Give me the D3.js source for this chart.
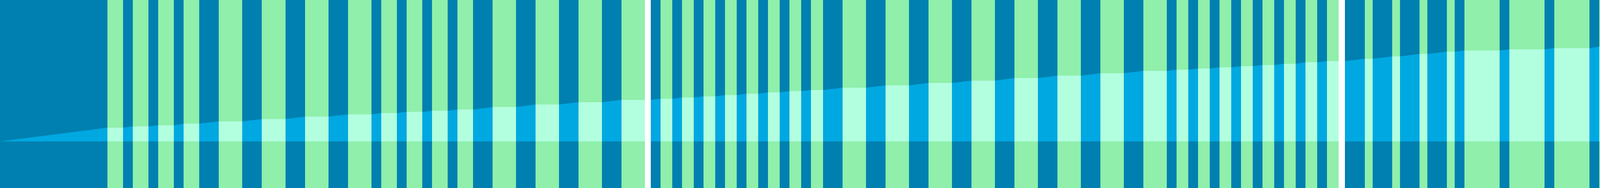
<!DOCTYPE html>
<html>
<head>
<meta charset="utf-8">
<script src="https://cdn.jsdelivr.net/npm/d3@7"></script>
<style>
  html, body { margin: 0; padding: 0; background: #ffffff; overflow: hidden; }
  svg { display: block; }
</style>
</head>
<body>
<svg id="chart"></svg>
<script>
// ---------------- DATA ----------------
// gap with no data preceding each rest phase (white break)
const breakBefore = [
  0, 0, 0, 0, 0, 0, 0, 0, 0, 0, 0, 0, 0, 0, 0, 0,
  3, 0, 0, 0, 0, 0, 0, 0,
  0, 0, 0, 0, 0, 0, 0, 0,
  0, 0, 0, 0, 0, 0, 0, 0,
  3.2, 0, 0, 0,
  0, 0, 0, 0
];
// rest phase (dark blue) duration before each active phase
const restDurations = [
  55, 5, 5, 5, 10, 10, 10, 10, 5, 5, 5, 5, 10, 10, 10, 10,
  5, 5, 5, 5, 5, 5, 5, 5,
  10, 10, 10, 10, 10, 10, 10, 10,
  5, 5, 5, 5, 5, 5, 5, 5,
  10, 10, 10, 10,
  5, 5, 5, 5
];
// active phase (green) durations
const activeDurations = [
  8, 8, 8, 8, 12, 12, 12, 12, 8, 8, 8, 8, 12, 12, 12, 12,
  6, 6, 6, 6, 6, 6, 6, 6,
  12, 12, 12, 12, 12, 12, 12, 12,
  6, 6, 6, 6, 6, 6, 6, 6,
  4, 4, 4, 4,
  18, 18, 18, 18
];
// cumulative level held during each active phase
const activeLevels = [
  35, 38.3, 41, 45.3, 51, 57, 63.3, 69, 72.3, 75.3, 78.3, 81.3, 87.7, 94.3, 100, 106,
  108.7, 112, 115, 118.3, 121.7, 125, 128.3, 131,
  137, 143, 149, 155, 161.7, 167.7, 174, 180,
  183, 186, 189, 192, 195, 198, 202, 205,
  211, 217, 223.3, 229,
  232, 235, 238, 242
];

// ---------------- STYLE ----------------
const W = 4184, H = 480;
const colors = {
  rest: "#0080b0",
  restFill: "#00a8e1",
  active: "#8fefab",
  activeFill: "#b2ffdf"
};

// ---------------- BUILD SEGMENTS ----------------
const segments = [];
let t = 0, prev = 0;
activeLevels.forEach((lvl, i) => {
  t += breakBefore[i];
  segments.push({ kind: "rest", t0: t, t1: t + restDurations[i], v0: prev, v1: lvl });
  t += restDurations[i];
  segments.push({ kind: "active", t0: t, t1: t + activeDurations[i], v0: lvl, v1: lvl });
  t += activeDurations[i];
  prev = lvl;
});

const x = d3.scaleLinear().domain([0, t]).rangeRound([0, W]);
const y = d3.scaleLinear().domain([-119, 361]).range([H, 0]);

const svg = d3.select("#chart").attr("width", W).attr("height", H);

// background bands
svg.append("g").selectAll("rect")
  .data(segments)
  .join("rect")
  .attr("x", d => x(d.t0))
  .attr("y", 0)
  .attr("width", d => x(d.t1) - x(d.t0))
  .attr("height", H)
  .attr("shape-rendering", "crispEdges")
  .attr("fill", d => colors[d.kind]);

// area per band
const area = d3.area()
  .x(d => x(d.t))
  .y0(y(0))
  .y1(d => y(d.v));

svg.append("g").selectAll("path")
  .data(segments)
  .join("path")
  .attr("d", d => area([{ t: d.t0, v: d.v0 }, { t: d.t1, v: d.v1 }]))
  .attr("fill", d => d.kind === "rest" ? colors.restFill : colors.activeFill);
</script>
</body>
</html>
